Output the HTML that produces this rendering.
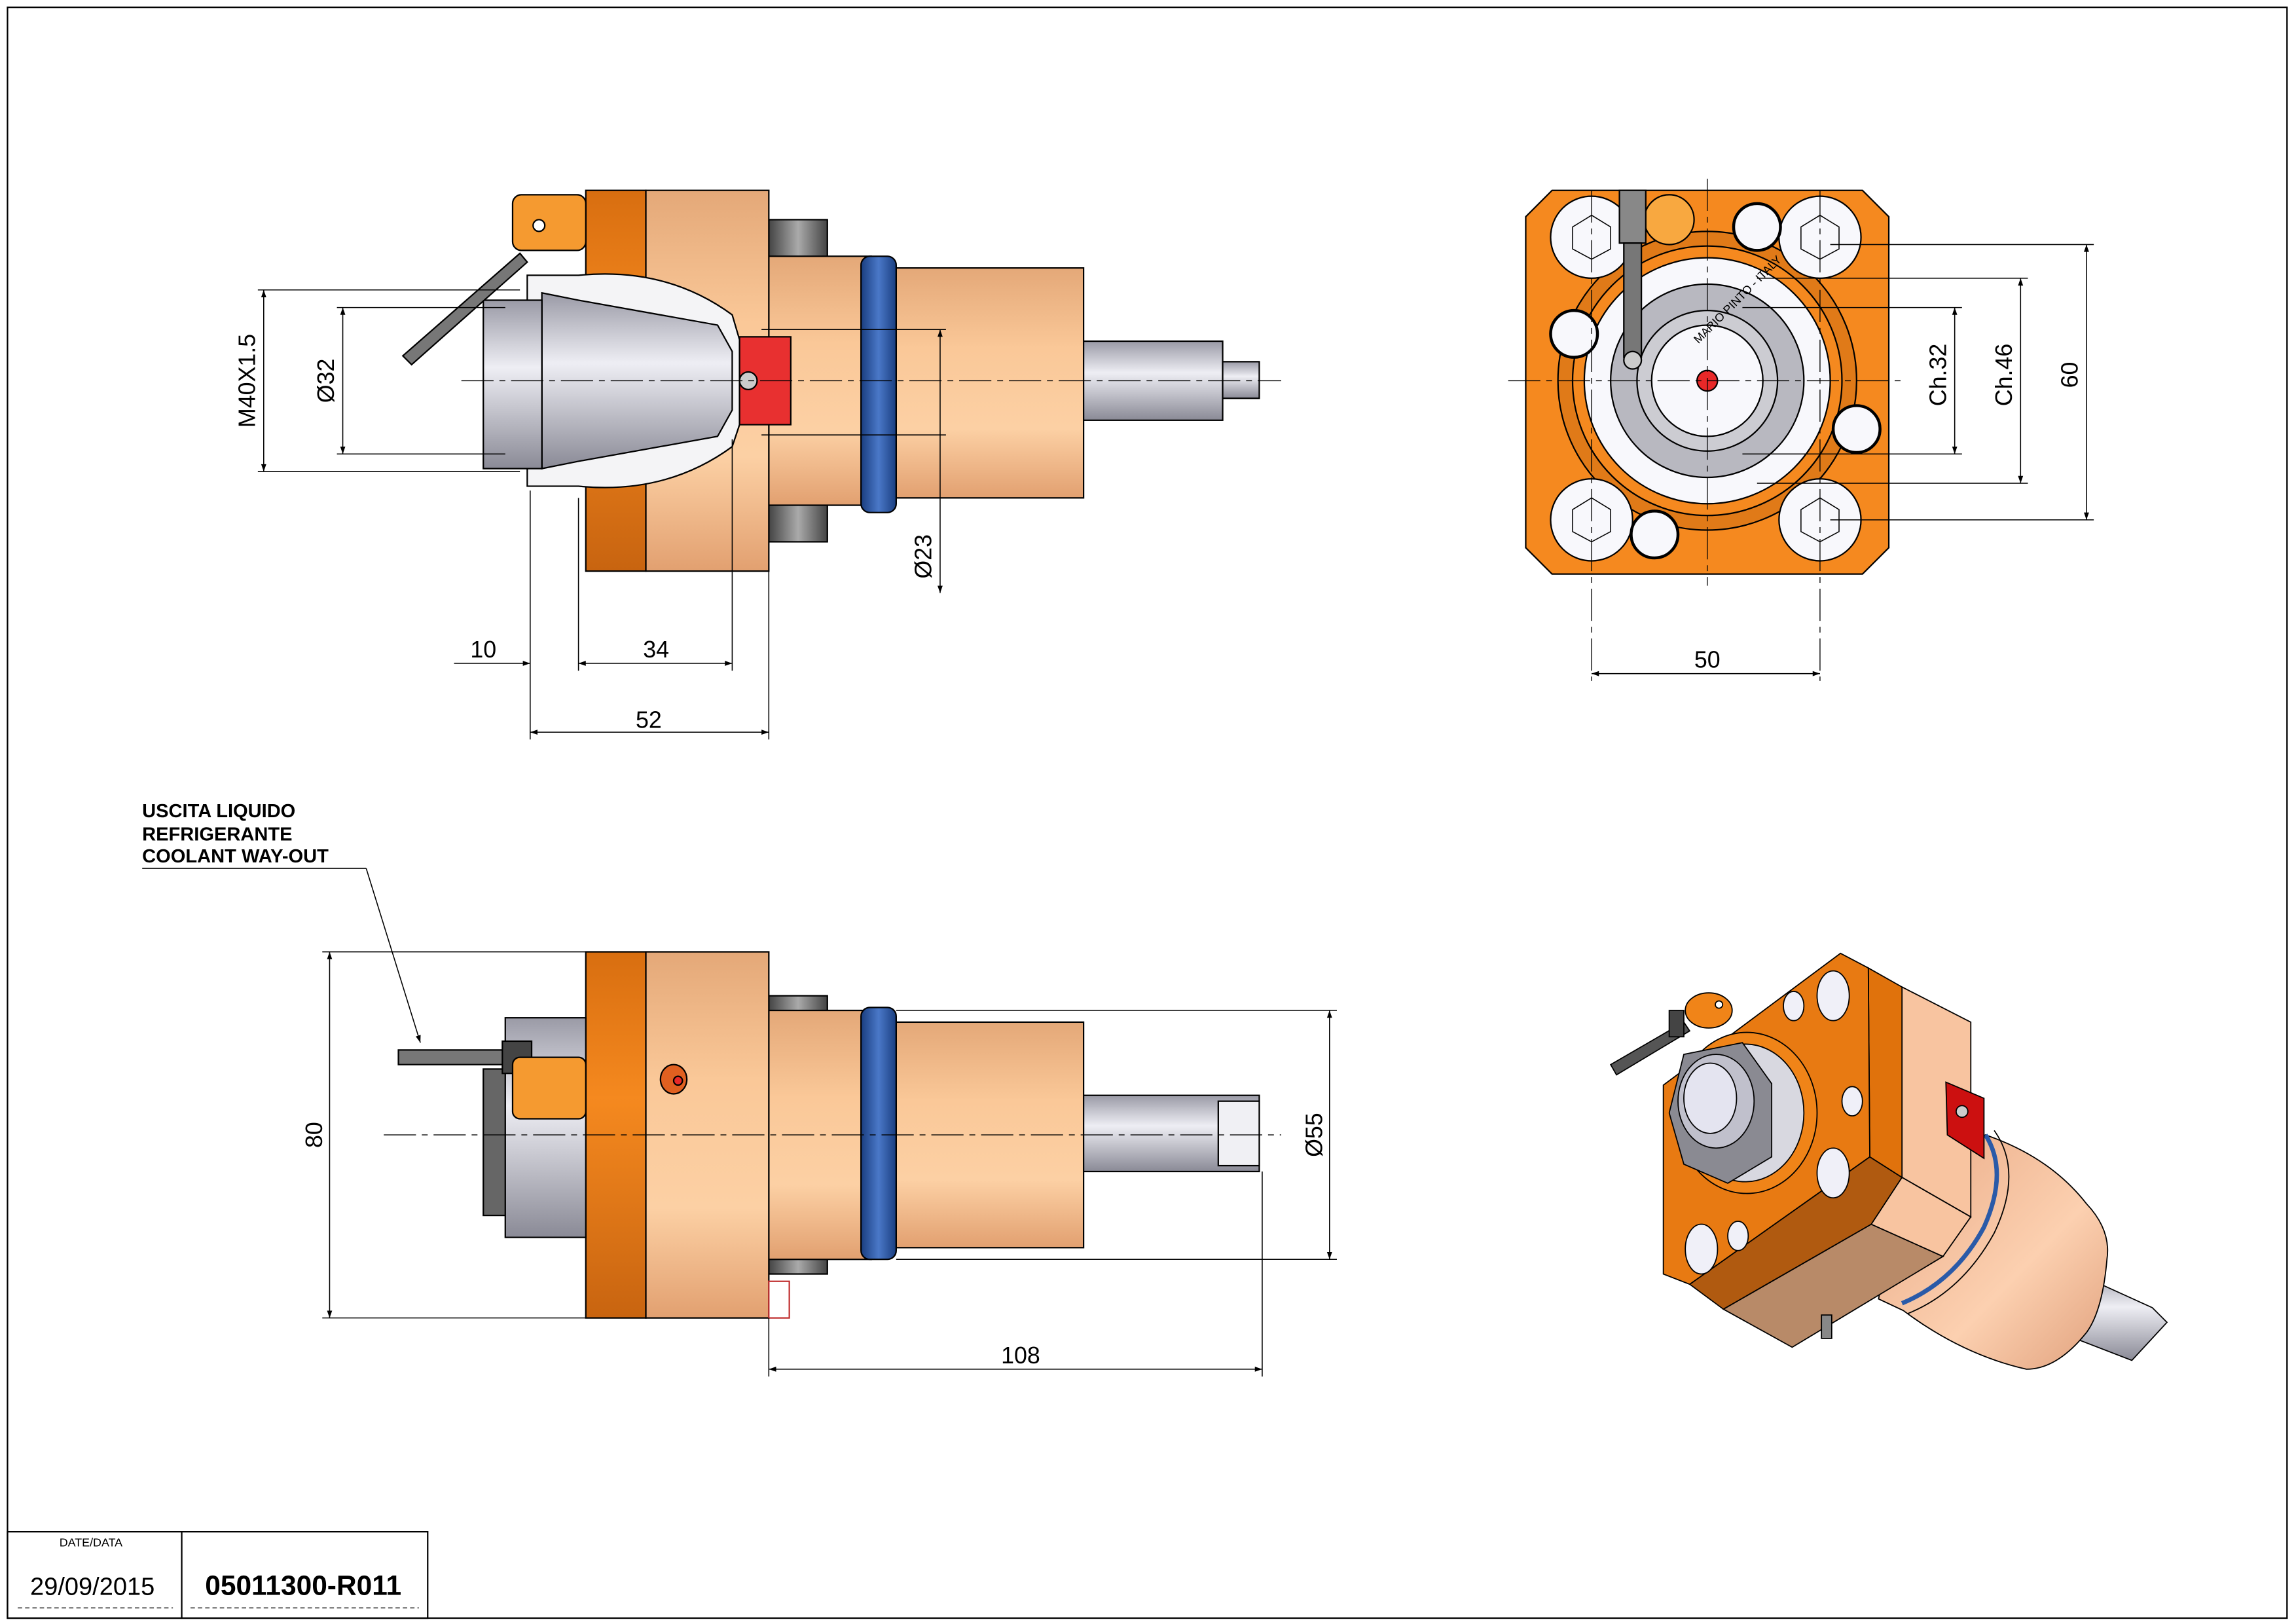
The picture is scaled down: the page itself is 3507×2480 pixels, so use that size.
<!DOCTYPE html>
<html><head><meta charset="utf-8"><style>
html,body{margin:0;padding:0;background:#fff}
svg{display:block}
text{font-family:"Liberation Sans",sans-serif;fill:#000}
</style></head><body>
<svg width="3507" height="2480" viewBox="0 0 1568 1109" xmlns="http://www.w3.org/2000/svg">
<defs>
<linearGradient id="peach" x1="0" y1="0" x2="0" y2="1"><stop offset="0" stop-color="#e4a878"/><stop offset="0.35" stop-color="#fac898"/><stop offset="0.7" stop-color="#fcd0a4"/><stop offset="1" stop-color="#e2a070"/></linearGradient>
<linearGradient id="dorange" x1="0" y1="0" x2="0" y2="1"><stop offset="0" stop-color="#d86e10"/><stop offset="0.4" stop-color="#f5891f"/><stop offset="1" stop-color="#c86410"/></linearGradient>
<linearGradient id="grey" x1="0" y1="0" x2="0" y2="1"><stop offset="0" stop-color="#9a9aa6"/><stop offset="0.4" stop-color="#eeeef4"/><stop offset="1" stop-color="#8a8a96"/></linearGradient>
<linearGradient id="stud" x1="0" y1="0" x2="1" y2="0"><stop offset="0" stop-color="#444"/><stop offset="0.5" stop-color="#aaa"/><stop offset="1" stop-color="#444"/></linearGradient>
<linearGradient id="blue" x1="0" y1="0" x2="1" y2="0"><stop offset="0" stop-color="#1a3e80"/><stop offset="0.5" stop-color="#4a78c8"/><stop offset="1" stop-color="#1a3e80"/></linearGradient>
<linearGradient id="cyl" x1="0" y1="0" x2="1" y2="1"><stop offset="0" stop-color="#e8a884"/><stop offset="0.6" stop-color="#fcd0b0"/><stop offset="1" stop-color="#e0a07c"/></linearGradient>
<marker id="ar" viewBox="0 0 10 10" refX="10" refY="5" markerWidth="9" markerHeight="5" orient="auto-start-reverse" markerUnits="userSpaceOnUse"><path d="M0,1.5 L10,5 L0,8.5z" fill="#000"/></marker>
</defs>
<rect x="5" y="5" width="1557" height="1100" fill="none" stroke="#000" stroke-width="1"/>

<!-- title block -->
<rect x="5" y="1046" width="287" height="59" fill="none" stroke="#000"/>
<line x1="124" y1="1046" x2="124" y2="1105" stroke="#000"/>
<text x="62" y="1056" font-size="8" text-anchor="middle">DATE/DATA</text>
<text x="63" y="1089" font-size="17" text-anchor="middle">29/09/2015</text>
<text x="207" y="1089" font-size="19" font-weight="bold" text-anchor="middle">05011300-R011</text>
<line x1="12" y1="1098" x2="118" y2="1098" stroke="#000" stroke-width="0.6" stroke-dasharray="3,2"/>
<line x1="130" y1="1098" x2="286" y2="1098" stroke="#000" stroke-width="0.6" stroke-dasharray="3,2"/>

<g stroke="#000" stroke-width="1">
<!-- ===== TOP LEFT VIEW ===== -->
<rect x="525" y="150" width="40" height="30" fill="url(#stud)"/>
<rect x="525" y="338" width="40" height="32" fill="url(#stud)"/>
<rect x="525" y="175" width="70" height="170" fill="url(#peach)"/>
<rect x="612" y="183" width="128" height="157" fill="url(#peach)"/>
<rect x="588" y="175" width="24" height="175" rx="6" fill="url(#blue)"/>
<rect x="740" y="233" width="95" height="54" fill="url(#grey)"/>
<rect x="835" y="247" width="25" height="25" fill="url(#grey)"/>
<rect x="441" y="130" width="84" height="260" fill="url(#peach)"/>
<rect x="400" y="130" width="41" height="260" fill="url(#dorange)"/>
<path d="M360,188 L395,188 Q455,182 500,215 L505,232 L505,290 L500,305 Q455,338 395,332 L360,332z" fill="#f4f4f6"/>
<path d="M370,200 L395,205 L490,222 L500,240 L500,280 L490,298 L395,315 L370,320z" fill="url(#grey)"/>
<rect x="330" y="205" width="40" height="115" fill="url(#grey)"/>
<rect x="505" y="230" width="35" height="60" fill="#e83030"/>
<circle cx="511" cy="260" r="6" fill="#ccc"/>
<path d="M275,243 L355,173 L360,179 L281,249z" fill="#777"/>
<rect x="350" y="133" width="50" height="38" rx="6" fill="#f59a30"/>
<circle cx="368" cy="154" r="4" fill="#fff"/>
<line x1="315" y1="260" x2="875" y2="260" stroke-width="0.6" stroke-dasharray="22,4,4,4"/>
<g stroke-width="0.7" fill="none">
<line x1="176" y1="198" x2="355" y2="198"/><line x1="176" y1="322" x2="355" y2="322"/>
<line x1="180" y1="198" x2="180" y2="322" marker-start="url(#ar)" marker-end="url(#ar)"/>
<line x1="230" y1="210" x2="345" y2="210"/><line x1="230" y1="310" x2="345" y2="310"/>
<line x1="234" y1="210" x2="234" y2="310" marker-start="url(#ar)" marker-end="url(#ar)"/>
<line x1="520" y1="225" x2="646" y2="225"/><line x1="520" y1="297" x2="646" y2="297"/>
<line x1="642" y1="225" x2="642" y2="405" marker-start="url(#ar)" marker-end="url(#ar)"/>
<line x1="362" y1="335" x2="362" y2="505"/><line x1="395" y1="340" x2="395" y2="458"/><line x1="500" y1="300" x2="500" y2="458"/><line x1="525" y1="390" x2="525" y2="505"/>
<line x1="310" y1="453" x2="362" y2="453" marker-end="url(#ar)"/>
<line x1="395" y1="453" x2="500" y2="453" marker-start="url(#ar)" marker-end="url(#ar)"/>
<line x1="362" y1="500" x2="525" y2="500" marker-start="url(#ar)" marker-end="url(#ar)"/>
</g>
</g>
<text x="178" y="260" font-size="16" text-anchor="middle" transform="rotate(-90 178 260)" dy="-4">M40X1.5</text>
<text x="232" y="260" font-size="16" text-anchor="middle" transform="rotate(-90 232 260)" dy="-4">Ø32</text>
<text x="640" y="380" font-size="16" text-anchor="middle" transform="rotate(-90 640 380)" dy="-4">Ø23</text>
<text x="330" y="449" font-size="16" text-anchor="middle">10</text>
<text x="448" y="449" font-size="16" text-anchor="middle">34</text>
<text x="443" y="497" font-size="16" text-anchor="middle">52</text>

<!-- ===== TOP RIGHT VIEW ===== -->
<g stroke="#000" stroke-width="1">
<path d="M1060,130 L1272,130 L1290,148 L1290,374 L1272,392 L1060,392 L1042,374 L1042,148z" fill="#f5891f"/>
<circle cx="1166" cy="260" r="102" fill="#e07a18"/>
<circle cx="1166" cy="260" r="92" fill="#f5891f"/>
<circle cx="1166" cy="260" r="84" fill="#f8f8fc"/>
<circle cx="1166" cy="260" r="66" fill="#b8b8c0"/>
<circle cx="1166" cy="260" r="48" fill="#ccccd2"/>
<circle cx="1166" cy="260" r="38" fill="#f8f8fc"/>
<circle cx="1166" cy="260" r="7" fill="#e82828"/>
<g fill="#f8f8fc">
<circle cx="1087" cy="162" r="28"/><circle cx="1243" cy="162" r="28"/><circle cx="1087" cy="355" r="28"/><circle cx="1243" cy="355" r="28"/>
</g>
<g fill="#f8f8fc" stroke-width="2"><circle cx="1200" cy="155" r="16"/><circle cx="1130" cy="365" r="16"/><circle cx="1268" cy="293" r="16"/><circle cx="1075" cy="228" r="16"/></g>
<circle cx="1140" cy="150" r="17" fill="#f8a840"/>
<rect x="1106" y="130" width="18" height="36" fill="#888"/>
<rect x="1109" y="166" width="12" height="78" fill="#777"/>
<circle cx="1115" cy="246" r="6" fill="#ccc"/>
<g fill="none" stroke-width="0.7">
<polygon points="1087,147 1100,155 1100,170 1087,177 1074,170 1074,155"/>
<polygon points="1243,147 1256,155 1256,170 1243,177 1230,170 1230,155"/>
<polygon points="1087,340 1100,348 1100,363 1087,370 1074,363 1074,348"/>
<polygon points="1243,340 1256,348 1256,363 1243,370 1230,363 1230,348"/>
</g>
<g stroke-width="0.6" stroke-dasharray="22,4,4,4">
<line x1="1030" y1="260" x2="1300" y2="260"/><line x1="1166" y1="122" x2="1166" y2="400"/>
<line x1="1087" y1="130" x2="1087" y2="465"/><line x1="1243" y1="130" x2="1243" y2="465"/>
</g>
<g stroke-width="0.7" fill="none">
<line x1="1190" y1="210" x2="1340" y2="210"/><line x1="1190" y1="310" x2="1340" y2="310"/>
<line x1="1335" y1="210" x2="1335" y2="310" marker-start="url(#ar)" marker-end="url(#ar)"/>
<line x1="1200" y1="190" x2="1385" y2="190"/><line x1="1200" y1="330" x2="1385" y2="330"/>
<line x1="1380" y1="190" x2="1380" y2="330" marker-start="url(#ar)" marker-end="url(#ar)"/>
<line x1="1250" y1="167" x2="1430" y2="167"/><line x1="1250" y1="355" x2="1430" y2="355"/>
<line x1="1425" y1="167" x2="1425" y2="355" marker-start="url(#ar)" marker-end="url(#ar)"/>
<line x1="1087" y1="460" x2="1243" y2="460" marker-start="url(#ar)" marker-end="url(#ar)"/>
</g>
</g>
<text x="1160" y="235" font-size="8" transform="rotate(-45 1160 235)">MARIO PINTO - ITALY</text>
<text x="1332" y="256" font-size="16" text-anchor="middle" transform="rotate(-90 1332 256)" dy="-3">Ch.32</text>
<text x="1377" y="256" font-size="16" text-anchor="middle" transform="rotate(-90 1377 256)" dy="-3">Ch.46</text>
<text x="1422" y="256" font-size="16" text-anchor="middle" transform="rotate(-90 1422 256)" dy="-3">60</text>
<text x="1166" y="456" font-size="16" text-anchor="middle">50</text>

<!-- ===== BOTTOM LEFT VIEW ===== -->
<text x="97" y="558" font-size="13" font-weight="bold">USCITA LIQUIDO</text>
<text x="97" y="574" font-size="13" font-weight="bold">REFRIGERANTE</text>
<text x="97" y="589" font-size="13" font-weight="bold">COOLANT WAY-OUT</text>
<g stroke="#000" stroke-width="1">
<line x1="97" y1="593" x2="250" y2="593" stroke-width="0.7"/>
<line x1="250" y1="593" x2="287" y2="712" stroke-width="0.7" marker-end="url(#ar)"/>
<rect x="525" y="680" width="40" height="32" fill="url(#stud)"/>
<rect x="525" y="838" width="40" height="32" fill="url(#stud)"/>
<rect x="525" y="690" width="70" height="170" fill="url(#peach)"/>
<rect x="612" y="698" width="128" height="154" fill="url(#peach)"/>
<rect x="588" y="688" width="24" height="172" rx="6" fill="url(#blue)"/>
<rect x="740" y="748" width="120" height="52" fill="url(#grey)"/>
<rect x="832" y="752" width="28" height="44" fill="#f0f0f4"/>
<rect x="441" y="650" width="84" height="250" fill="url(#peach)"/>
<rect x="400" y="650" width="41" height="250" fill="url(#dorange)"/>
<rect x="525" y="875" width="14" height="25" fill="#fff" stroke="#c03030"/>
<ellipse cx="460" cy="737" rx="9" ry="10" fill="#e06020"/><circle cx="463" cy="738" r="3" fill="#e82828"/>
<rect x="330" y="730" width="35" height="100" fill="#666"/>
<rect x="345" y="695" width="55" height="150" fill="url(#grey)"/>
<rect x="272" y="717" width="75" height="10" fill="#777"/>
<rect x="343" y="711" width="20" height="22" fill="#444"/>
<rect x="350" y="722" width="50" height="42" rx="5" fill="#f59a30"/>
<line x1="262" y1="775" x2="875" y2="775" stroke-width="0.6" stroke-dasharray="22,4,4,4"/>
<g stroke-width="0.7" fill="none">
<line x1="220" y1="650" x2="400" y2="650"/><line x1="220" y1="900" x2="400" y2="900"/>
<line x1="225" y1="650" x2="225" y2="900" marker-start="url(#ar)" marker-end="url(#ar)"/>
<line x1="612" y1="690" x2="913" y2="690"/><line x1="612" y1="860" x2="913" y2="860"/>
<line x1="908" y1="690" x2="908" y2="860" marker-start="url(#ar)" marker-end="url(#ar)"/>
<line x1="525" y1="900" x2="525" y2="940"/><line x1="862" y1="800" x2="862" y2="940"/>
<line x1="525" y1="935" x2="862" y2="935" marker-start="url(#ar)" marker-end="url(#ar)"/>
</g>
</g>
<text x="220" y="775" font-size="16" text-anchor="middle" transform="rotate(-90 220 775)">80</text>
<text x="903" y="775" font-size="16" text-anchor="middle" transform="rotate(-90 903 775)">Ø55</text>
<text x="697" y="931" font-size="16" text-anchor="middle">108</text>

<!-- ===== ISO VIEW ===== -->
<g stroke="#000" stroke-width="0.8">
<!-- shaft -->
<path d="M1415,868 L1470,893 L1480,903 L1456,929 L1412,912z" fill="url(#grey)"/>
<!-- cylinder -->
<path d="M1356,775 Q1400,790 1425,822 Q1442,840 1439,860 Q1436,895 1425,910 Q1405,935 1384,935 Q1340,925 1300,895 L1283,887 L1300,800z" fill="url(#cyl)"/>
<path d="M1356,775 Q1372,800 1355,838 Q1335,875 1299,890" fill="none" stroke="#2a5aa8" stroke-width="3"/>
<path d="M1362,772 Q1382,800 1362,842 Q1340,882 1303,897" fill="none"/>
<!-- body side -->
<path d="M1299,674 L1346,698 L1346,831 L1299,804z" fill="#f8c4a0"/>
<!-- body bottom -->
<path d="M1177,894 L1278,836 L1327,858 L1224,920z" fill="#b88a68"/>
<path d="M1278,836 L1299,804 L1346,831 L1327,858z" fill="#f8c4a0"/>
<rect x="1244" y="898" width="7" height="16" fill="#888"/>
<!-- plate bottom & right thickness -->
<path d="M1154,877 L1277,790 L1299,804 L1278,836 L1177,894z" fill="#b05a10"/>
<path d="M1276,661 L1299,674 L1299,804 L1277,790z" fill="#e0720c"/>
<!-- plate face -->
<path d="M1136,741 L1257,651 L1276,661 L1277,790 L1154,877 L1136,870z" fill="#e87a12"/>
<!-- collet -->
<ellipse cx="1193" cy="760" rx="48" ry="55" fill="#f08418"/>
<ellipse cx="1192" cy="760" rx="40" ry="47" fill="#d8d8e0"/>
<path d="M1150,720 L1190,712 L1210,740 L1210,790 L1180,808 L1150,795 L1140,760z" fill="#8a8a92"/>
<ellipse cx="1172" cy="752" rx="26" ry="32" fill="#c0c0cc"/>
<ellipse cx="1168" cy="750" rx="18" ry="24" fill="#e4e4f0"/>
<!-- bolts -->
<g fill="#f0f0f8">
<ellipse cx="1252" cy="680" rx="11" ry="17"/><ellipse cx="1252" cy="801" rx="11" ry="17"/><ellipse cx="1162" cy="853" rx="11" ry="17"/>
<ellipse cx="1225" cy="687" rx="7" ry="10"/><ellipse cx="1265" cy="752" rx="7" ry="10"/><ellipse cx="1187" cy="844" rx="7" ry="10"/>
</g>
<!-- red block -->
<path d="M1329,739 L1355,750 L1355,791 L1330,775z" fill="#cc1010"/>
<circle cx="1340" cy="759" r="4" fill="#ccc"/>
<!-- lever & knob -->
<path d="M1100,727 L1150,698 L1154,704 L1104,734z" fill="#555"/>
<rect x="1140" y="690" width="10" height="18" fill="#444"/>
<ellipse cx="1167" cy="690" rx="16" ry="12" fill="#f08418"/>
<circle cx="1174" cy="686" r="2.5" fill="#fff"/>
</g>
</svg>
</body></html>
